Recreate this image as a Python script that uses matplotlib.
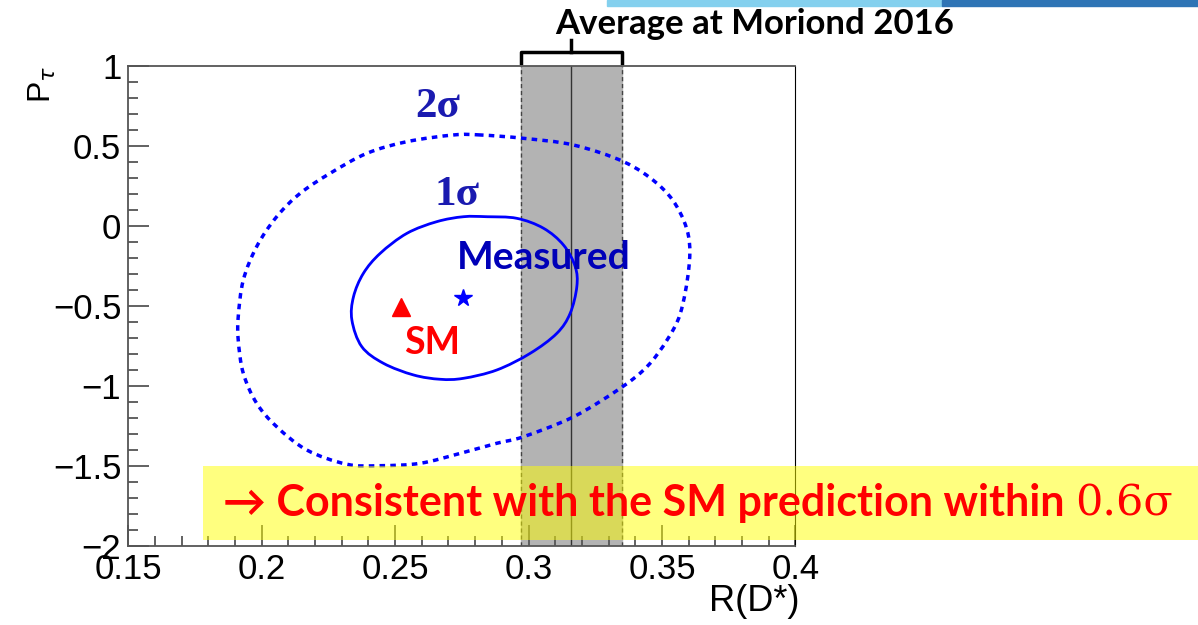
import matplotlib.pyplot as plt
import matplotlib.transforms as mtransforms
from matplotlib.patches import Rectangle, PathPatch
from matplotlib.path import Path
from matplotlib.text import Annotation
from matplotlib.ticker import MultipleLocator

# 1 sigma contour (R(D*), P_tau)
c1_x = [0.2844, 0.2956, 0.3056, 0.3131, 0.3175, 0.3181, 0.3156, 0.3106, 0.3006,
        0.2881, 0.2756, 0.2669, 0.2569, 0.2456, 0.2375, 0.2338, 0.2344, 0.2381,
        0.2444, 0.2544, 0.2656, 0.2756]
c1_y = [0.058, 0.048, -0.014, -0.119, -0.254, -0.379, -0.546, -0.671, -0.796,
        -0.900, -0.952, -0.958, -0.931, -0.858, -0.754, -0.588, -0.442, -0.296,
        -0.171, -0.046, 0.027, 0.058]

# 2 sigma contour
c2_x = [0.2819, 0.2719, 0.2544, 0.2394, 0.2256, 0.2144, 0.2056, 0.1981, 0.1931,
        0.1912, 0.1912, 0.1931, 0.1981, 0.2056, 0.2169, 0.2319, 0.2444, 0.2594,
        0.2744, 0.2881, 0.2981, 0.3169, 0.3344, 0.3444, 0.3519, 0.3569, 0.3600,
        0.3600, 0.3556, 0.3481, 0.3356, 0.3169, 0.2981]
c2_y = [0.569, 0.569, 0.527, 0.454, 0.329, 0.204, 0.058, -0.129, -0.338,
        -0.567, -0.713, -0.921, -1.108, -1.254, -1.400, -1.489, -1.498, -1.483,
        -1.421, -1.358, -1.317, -1.192, -1.014, -0.879, -0.713, -0.546, -0.275,
        -0.067, 0.121, 0.267, 0.402, 0.506, 0.548]

measured = (0.2756, -0.452)
sm = (0.2523, -0.504)

avg_center = 0.316
avg_err = 0.019

xticks = [0.15, 0.2, 0.25, 0.3, 0.35, 0.4]
yticks = [1, 0.5, 0, -0.5, -1, -1.5, -2]


def smooth_closed(xs, ys):
    # closed Catmull-Rom curve through the read points, drawn as cubic beziers
    n = len(xs)
    verts = [(xs[0], ys[0])]
    codes = [Path.MOVETO]
    for i in range(n):
        p0 = (xs[i - 1], ys[i - 1])
        p1 = (xs[i], ys[i])
        p2 = (xs[(i + 1) % n], ys[(i + 1) % n])
        p3 = (xs[(i + 2) % n], ys[(i + 2) % n])
        c1 = (p1[0] + (p2[0] - p0[0]) / 6, p1[1] + (p2[1] - p0[1]) / 6)
        c2 = (p2[0] - (p3[0] - p1[0]) / 6, p2[1] - (p3[1] - p1[1]) / 6)
        verts += [c1, c2, p2]
        codes += [Path.CURVE4] * 3
    return Path(verts, codes)


fig = plt.figure(figsize=(11.98, 6.25), dpi=100)
ax = fig.add_axes([0.1071, 0.1264, 0.5568, 0.768])
ax.set_xlim(0.15, 0.4)
ax.set_ylim(-2, 1)

# average band
ax.axvspan(avg_center - avg_err, avg_center + avg_err, color='#b3b3b3', zorder=1)
for xe in (avg_center - avg_err, avg_center + avg_err):
    ax.axvline(xe, color='#444444', lw=1, ls=(0, (3, 2)), zorder=2)
ax.axvline(avg_center, color='#333333', lw=1, zorder=2)

ax.add_patch(PathPatch(smooth_closed(c1_x, c1_y), facecolor='none',
                       edgecolor='#0000ff', lw=2, zorder=3))
ax.add_patch(PathPatch(smooth_closed(c2_x, c2_y), facecolor='none',
                       edgecolor='#0000ff', lw=2.5, ls=(0, (1.6, 1.5)), zorder=3))

ax.plot(*measured, marker='*', color='#0000ff', ms=13, zorder=4)
ax.plot(*sm, marker='^', color='#ff0000', ms=13, zorder=4)

ax.text(0.266, 0.744, '2σ', color='#1a1ab0', fontsize=31, fontweight='bold',
        family='Liberation Serif', ha='center', va='center')
ax.text(0.2731, 0.194, '1σ', color='#1a1ab0', fontsize=31, fontweight='bold',
        family='Liberation Serif', ha='center', va='center')
ax.text(0.3057, -0.194, 'Measured', color='#0000b8', fontsize=28, fontweight='bold',
        family='Lato', ha='center', va='center', zorder=5)
ax.text(0.2639, -0.731, 'SM', color='#ff0000', fontsize=27, fontweight='bold',
        family='Lato', ha='center', va='center')

# axes styling (ROOT-like)
for s in ax.spines.values():
    s.set_color('#555555')
    s.set_linewidth(1.3)
ax.spines['right'].set_color('black')
ax.spines['right'].set_linewidth(0.8)
ax.set_xticks(xticks)
ax.set_yticks(yticks)
ax.set_xticklabels(['0.15', '0.2', '0.25', '0.3', '0.35', '0.4'])
ax.set_yticklabels(['1', '0.5', '0', '\u22120.5', '\u22121', '\u22121.5', '\u22122'])
ax.xaxis.set_minor_locator(MultipleLocator(0.01))
ax.yaxis.set_minor_locator(MultipleLocator(0.1))
ax.tick_params(which='both', direction='in', top=False, right=False,
               color='#555555', width=1.3, labelsize=25,
               labelfontfamily='Liberation Sans')
ax.tick_params(which='major', length=15, pad=5)
ax.tick_params(which='minor', length=7.5)

fig.text(0.667, 0.01, 'R(D*)', fontsize=26, family='Liberation Sans',
         ha='right', va='bottom')
fig.text(0.035, 0.894, 'P$_{\\tau}$', fontsize=23, family='Liberation Sans',
         rotation=90, ha='center', va='top')

# bracket over the average band
trans = mtransforms.blended_transform_factory(ax.transData, ax.transAxes)
lo, hi = avg_center - avg_err, avg_center + avg_err
ax.plot([lo, lo, hi, hi], [1.006, 1.029, 1.029, 1.006], color='black', lw=2.5,
        transform=trans, clip_on=False)
ax.plot([avg_center, avg_center], [1.029, 1.054], color='black', lw=2.5,
        transform=trans, clip_on=False)
fig.text(0.63, 0.962, 'Average at Moriond 2016', fontsize=25, fontweight='bold',
         family='Lato', ha='center', va='center')

# slide header strip
fig.add_artist(Rectangle((0.507, 0.991), 0.279, 0.009, transform=fig.transFigure,
                         color='#84d0ee', zorder=0))
fig.add_artist(Rectangle((0.786, 0.991), 0.214, 0.009, transform=fig.transFigure,
                         color='#2e74b5', zorder=0))

# conclusion box
fig.add_artist(Rectangle((0.1695, 0.136), 0.8305, 0.118, transform=fig.transFigure,
                         facecolor=(1, 1, 0), alpha=0.5, zorder=10))
t1 = fig.text(0.186, 0.195, '\u2192 Consistent with the SM prediction within ',
              color='#ff0000', fontsize=31, fontweight='bold', family='Lato',
              ha='left', va='center', zorder=11)
fig.add_artist(Annotation('0.6σ', xy=(1, 0.5), xycoords=t1, va='center', ha='left',
                          color='#ff0000', fontsize=31, family='DejaVu Serif',
                          zorder=11))

plt.savefig('out.png', dpi=100)
